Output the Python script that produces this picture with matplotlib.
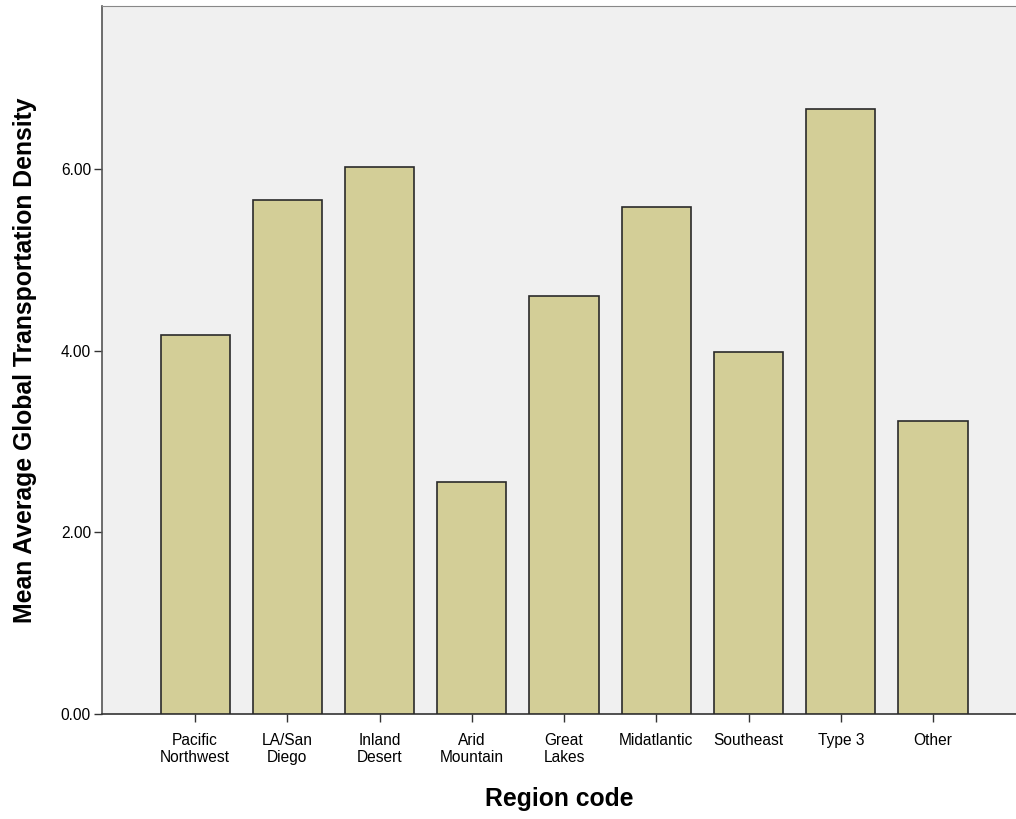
import matplotlib
matplotlib.use("Agg")
import matplotlib.pyplot as plt

categories = ["Pacific\nNorthwest", "LA/San\nDiego", "Inland\nDesert", "Arid\nMountain",
              "Great\nLakes", "Midatlantic", "Southeast", "Type 3", "Other"]
values = [4.18, 5.66, 6.03, 2.56, 4.60, 5.59, 3.99, 6.67, 3.23]
yticks = [0, 2, 4, 6]
ytick_labels = ["0.00", "2.00", "4.00", "6.00"]

plt.rcParams['font.family'] = ['Liberation Sans', 'DejaVu Sans']

fig = plt.figure(figsize=(10.16, 8.19), dpi=100)
ax = fig.add_axes([0.1004, 0.1282, 0.8996, 0.8645])
ax.set_facecolor("#F0F0F0")

x = list(range(len(categories)))
ax.bar(x, values, width=0.75, color="#D3CE97", edgecolor="#2a2a2a", linewidth=1.2, zorder=3)

ax.set_xlim(-1.01, 8.9)
ax.set_ylim(0, 7.8)
ax.set_xticks(x)
ax.set_xticklabels(categories, fontsize=11.2, linespacing=1.1)
ax.set_yticks(yticks)
ax.set_yticklabels(ytick_labels, fontsize=11.2)
ax.tick_params(axis='both', length=6, width=1, color="#333333")
ax.tick_params(axis='x', pad=8)
ax.tick_params(axis='y', pad=2)

ax.spines["right"].set_visible(False)
ax.spines["top"].set_color("#888888")
ax.spines["left"].set_color("#555555")
ax.spines["bottom"].set_color("#333333")
ax.spines["left"].set_linewidth(1.2)
ax.spines["bottom"].set_linewidth(1.2)

ax.set_ylabel("Mean Average Global Transportation Density", fontsize=17.8, fontweight="bold", labelpad=17)
ax.set_xlabel("Region code", fontsize=17.8, fontweight="bold", labelpad=16)

fig.savefig("out.png", dpi=100)
